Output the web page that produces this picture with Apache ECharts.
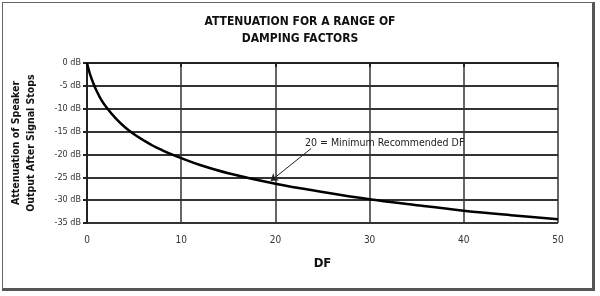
<!DOCTYPE html>
<html><head><meta charset="utf-8">
<script src="https://cdn.jsdelivr.net/npm/echarts@6/dist/echarts.min.js"></script>
<style>
html,body{margin:0;padding:0;background:#fff;}
#frame{position:absolute;left:2px;top:2px;width:589px;height:285px;border:1px solid #666;border-right:3px solid #555;border-bottom:3px solid #555;}
#c{position:absolute;left:0;top:0;width:600px;height:296px;}
</style>
</head><body>
<div id="frame"></div>
<div id="c"></div>
<script>
const titleText = "ATTENUATION FOR A RANGE OF\nDAMPING FACTORS";
const yAxisTitle = "Attenuation of Speaker\nOutput After Signal Stops";
const xAxisTitle = "DF";
const dfValues = [0, 0.3, 0.7, 1, 1.5, 2, 3, 4, 5, 6, 7, 8, 9, 10, 12, 15, 20, 25, 30, 35, 40, 45, 50];
const dbValues = [0, -2.3, -4.6, -6, -8, -9.5, -12, -14, -15.6, -16.9, -18.1, -19.1, -20, -20.8, -22.3, -24.1, -26.4, -28.2, -29.8, -31.1, -32.3, -33.3, -34.2];
const annotationText = "20 = Minimum Recommended DF";
const arrowFrom = [23.8, -18.7];
const arrowTo = [19.5, -25.8];
const annotationAt = [31.6, -17.5];

const font = "'DejaVu Sans Condensed','Liberation Sans Narrow',sans-serif";
const chart = echarts.init(document.getElementById('c'), null, {renderer:'canvas'});
chart.setOption({
  animation:false,
  backgroundColor:'transparent',
  title:{text:titleText,left:'center',top:8,textStyle:{fontFamily:font,fontSize:12,fontWeight:'bold',color:'#111',lineHeight:17}},
  grid:{left:87,right:42,top:63,bottom:73},
  xAxis:{type:'value',min:0,max:50,interval:10,
    name:xAxisTitle,nameLocation:'middle',nameGap:34,
    nameTextStyle:{fontFamily:font,fontSize:13,fontWeight:'bold',color:'#111'},
    axisLine:{lineStyle:{color:'#222',width:2}},
    axisTick:{show:true,length:4,lineStyle:{color:'#222',width:2}},
    axisLabel:{fontFamily:font,fontSize:10,color:'#333',margin:12},
    splitLine:{show:true,lineStyle:{color:'#333',width:1.5}}},
  yAxis:{type:'value',min:-35,max:0,interval:5,
    name:yAxisTitle,nameLocation:'middle',nameGap:48,nameRotate:90,
    nameTextStyle:{fontFamily:font,fontSize:10.5,fontWeight:'bold',color:'#111',lineHeight:15},
    axisLine:{show:true,lineStyle:{color:'#222',width:2}},
    axisTick:{show:true,length:4,lineStyle:{color:'#222',width:2}},
    axisLabel:{fontFamily:font,fontSize:9,color:'#333',margin:6,formatter:v=>v+' dB'},
    splitLine:{show:true,lineStyle:{color:'#333',width:2}}},
  series:[{
    type:'line',smooth:0.4,showSymbol:false,
    data:dfValues.map((x,i)=>[x,dbValues[i]]),
    lineStyle:{color:'#000',width:2.5},
    markLine:{silent:true,symbol:['none','arrow'],symbolSize:7,
      lineStyle:{color:'#222',width:1,type:'solid'},label:{show:false},
      data:[[{coord:arrowFrom},{coord:arrowTo}]]},
    markPoint:{silent:true,symbol:'circle',symbolSize:0,
      label:{show:true,position:'inside',formatter:annotationText,fontFamily:font,fontSize:10.5,color:'#222'},
      data:[{coord:annotationAt}]}
  }]
});
</script>
</body></html>
